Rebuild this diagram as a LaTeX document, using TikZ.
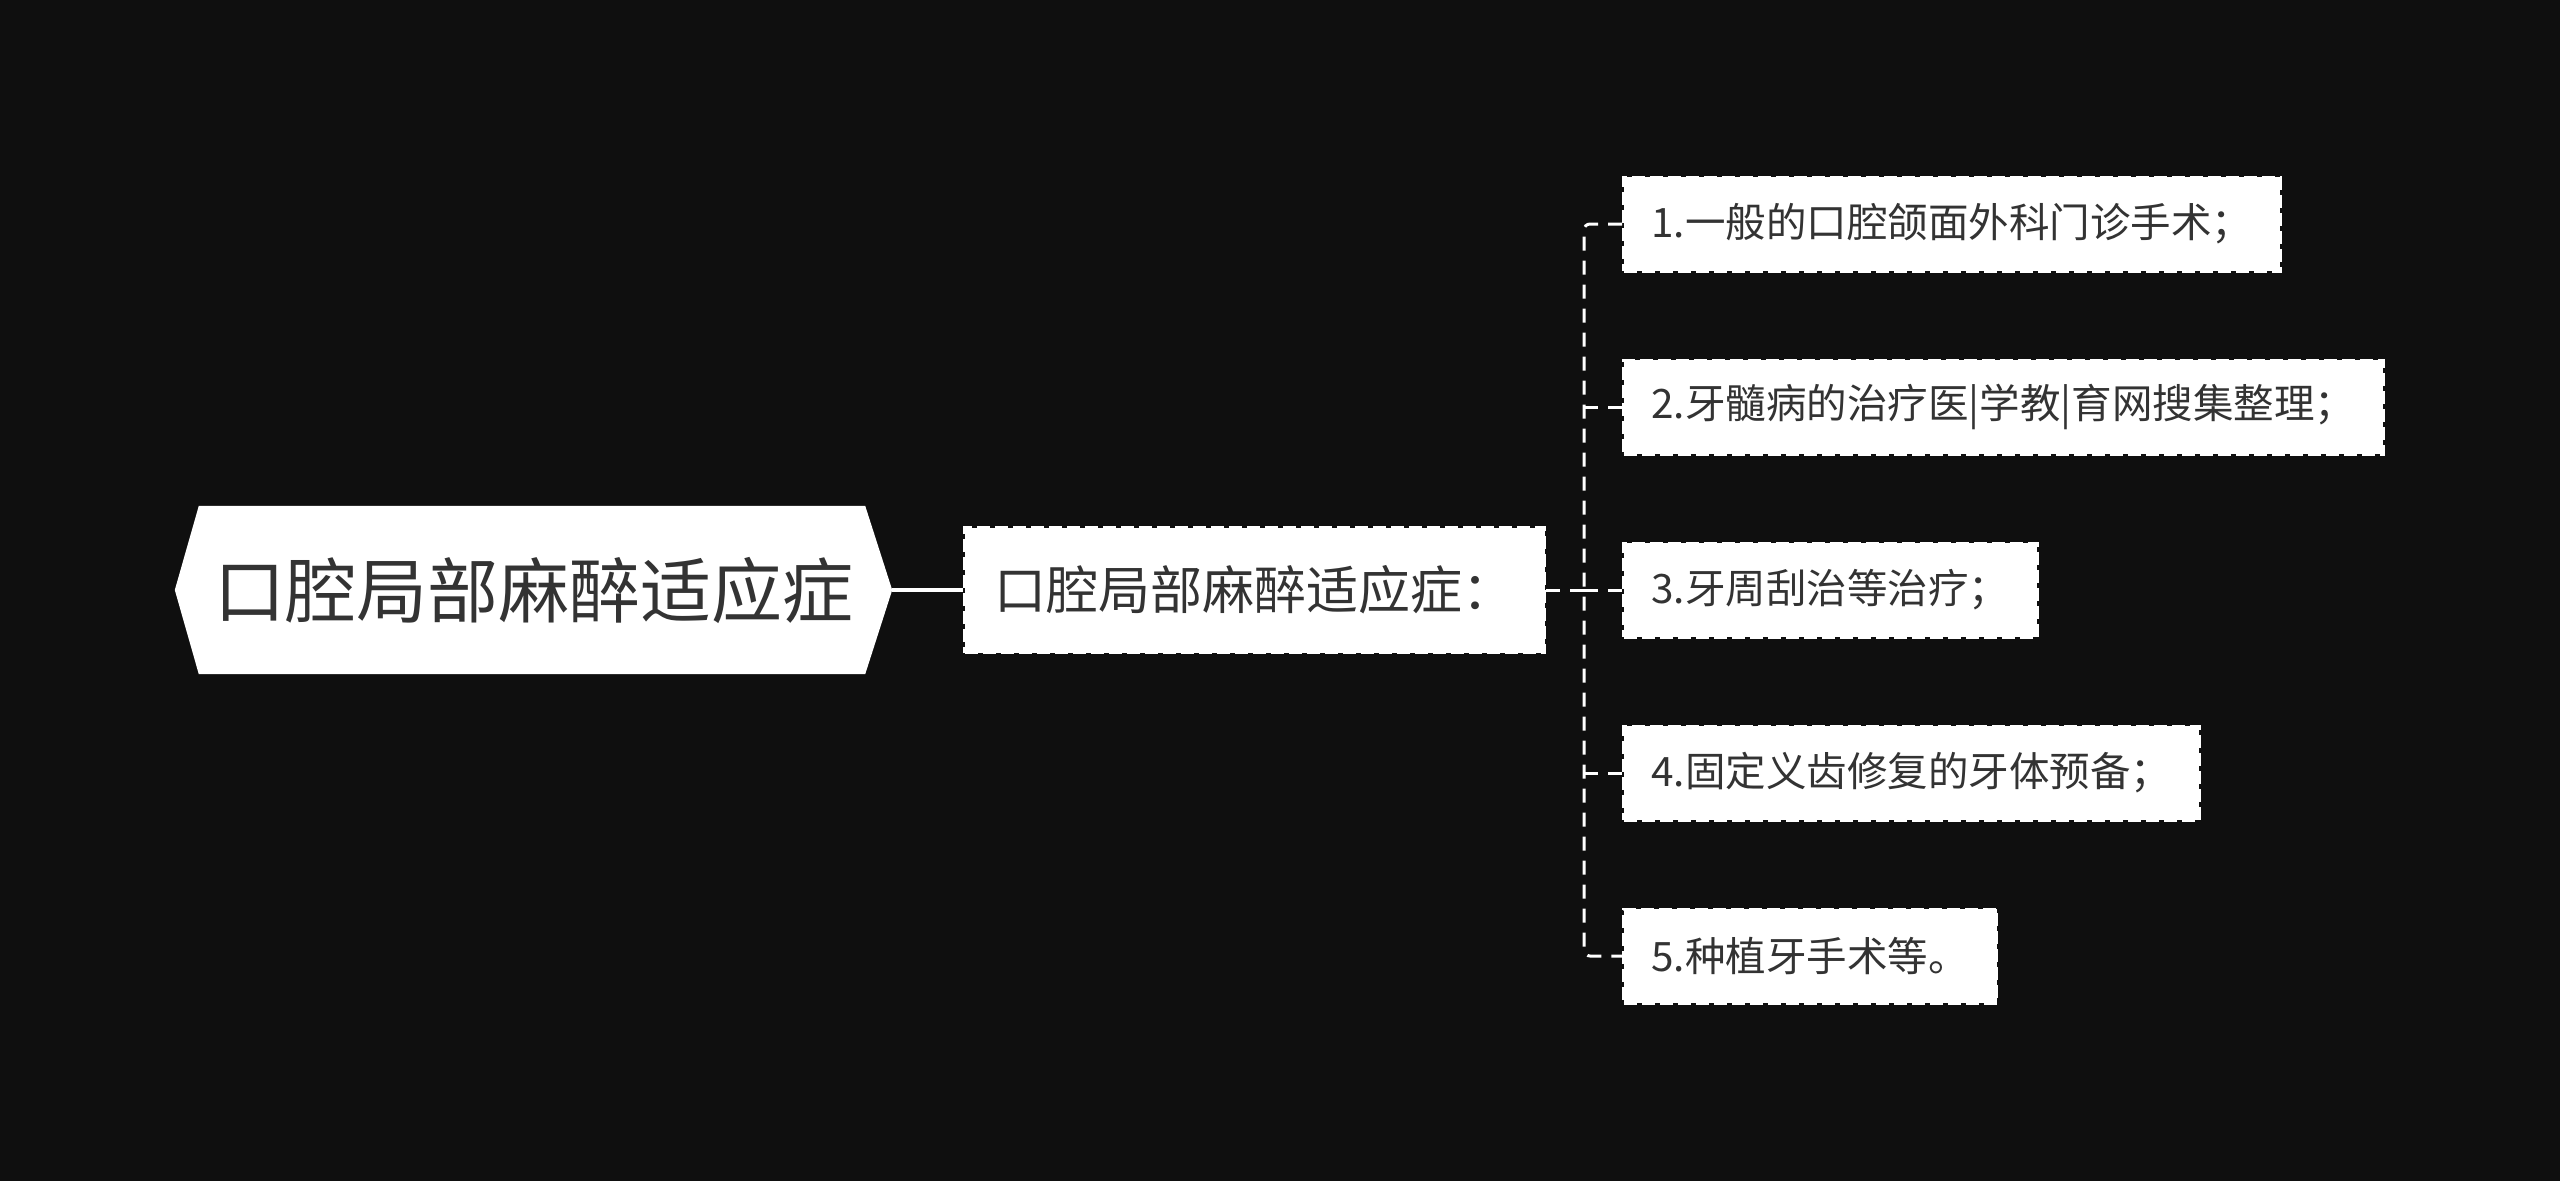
\documentclass[tikz,border=0pt]{standalone}
\usepackage{fontspec}
\setmainfont{Noto Sans CJK SC}
\usetikzlibrary{calc,backgrounds}
\definecolor{bgcol}{HTML}{0F0F0F}
\definecolor{txtcol}{HTML}{333333}
\tikzset{
  rootbox/.style={inner sep=0pt,minimum width=717pt,minimum height=168pt,
    text=txtcol,font=\fontsize{71}{84}\selectfont},
  midbox/.style={anchor=west,fill=white,draw=white,line width=3pt,
    dash pattern=on 13pt off 5pt,inner xsep=30pt,minimum height=125pt,
    text=txtcol,font=\fontsize{52}{62}\selectfont},
  leafbox/.style={anchor=west,fill=white,draw=white,line width=3pt,
    dash pattern=on 13pt off 5pt,inner xsep=28pt,minimum height=94pt,
    text=txtcol,font=\fontsize{40.5}{48}\selectfont},
  link/.style={draw=white,line width=3pt,dash pattern=on 14pt off 10pt}
}
\begin{document}
\begin{tikzpicture}[x=1pt,y=-1pt]
  \useasboundingbox (0,0) rectangle (2560,1181);

  % Root
  \node[rootbox] (root) at (533.5,590) {口腔局部麻醉适应症};

  % Middle
  \node[midbox] (mid) at (963,590) {口腔局部麻醉适应症：};

  % Leaves
  \node[leafbox] (leaf1) at (1622,224) {1.一般的口腔颌面外科门诊手术；};
  \node[leafbox] (leaf2) at (1622,407) {2.牙髓病的治疗医|学教|育网搜集整理；};
  \node[leafbox] (leaf3) at (1622,590) {3.牙周刮治等治疗；};
  \node[leafbox] (leaf4) at (1622,773) {4.固定义齿修复的牙体预备；};
  \node[leafbox] (leaf5) at (1622,956) {5.种植牙手术等。};

  % Background and root hexagon
  \begin{scope}[on background layer]
    \fill[bgcol] (0,0) rectangle (2560,1181);
    \fill[white] (root.west) -- ($(root.north west)+(24,0)$)
      -- ($(root.north east)+(-27,0)$) -- (root.east)
      -- ($(root.south east)+(-27,0)$) -- ($(root.south west)+(24,0)$) -- cycle;
  \end{scope}

  % Connectors
  \coordinate (trunk) at (1584,590);
  \draw[white,line width=4pt] (root.east) -- (mid.west);
  \draw[link] (mid.east) -- (trunk);
  \draw[link,rounded corners=6pt] (leaf1.west) -| (trunk) |- (leaf5.west);
  \foreach \i in {2,3,4}
    \draw[link] (trunk |- leaf\i.west) -- (leaf\i.west);
\end{tikzpicture}
\end{document}
